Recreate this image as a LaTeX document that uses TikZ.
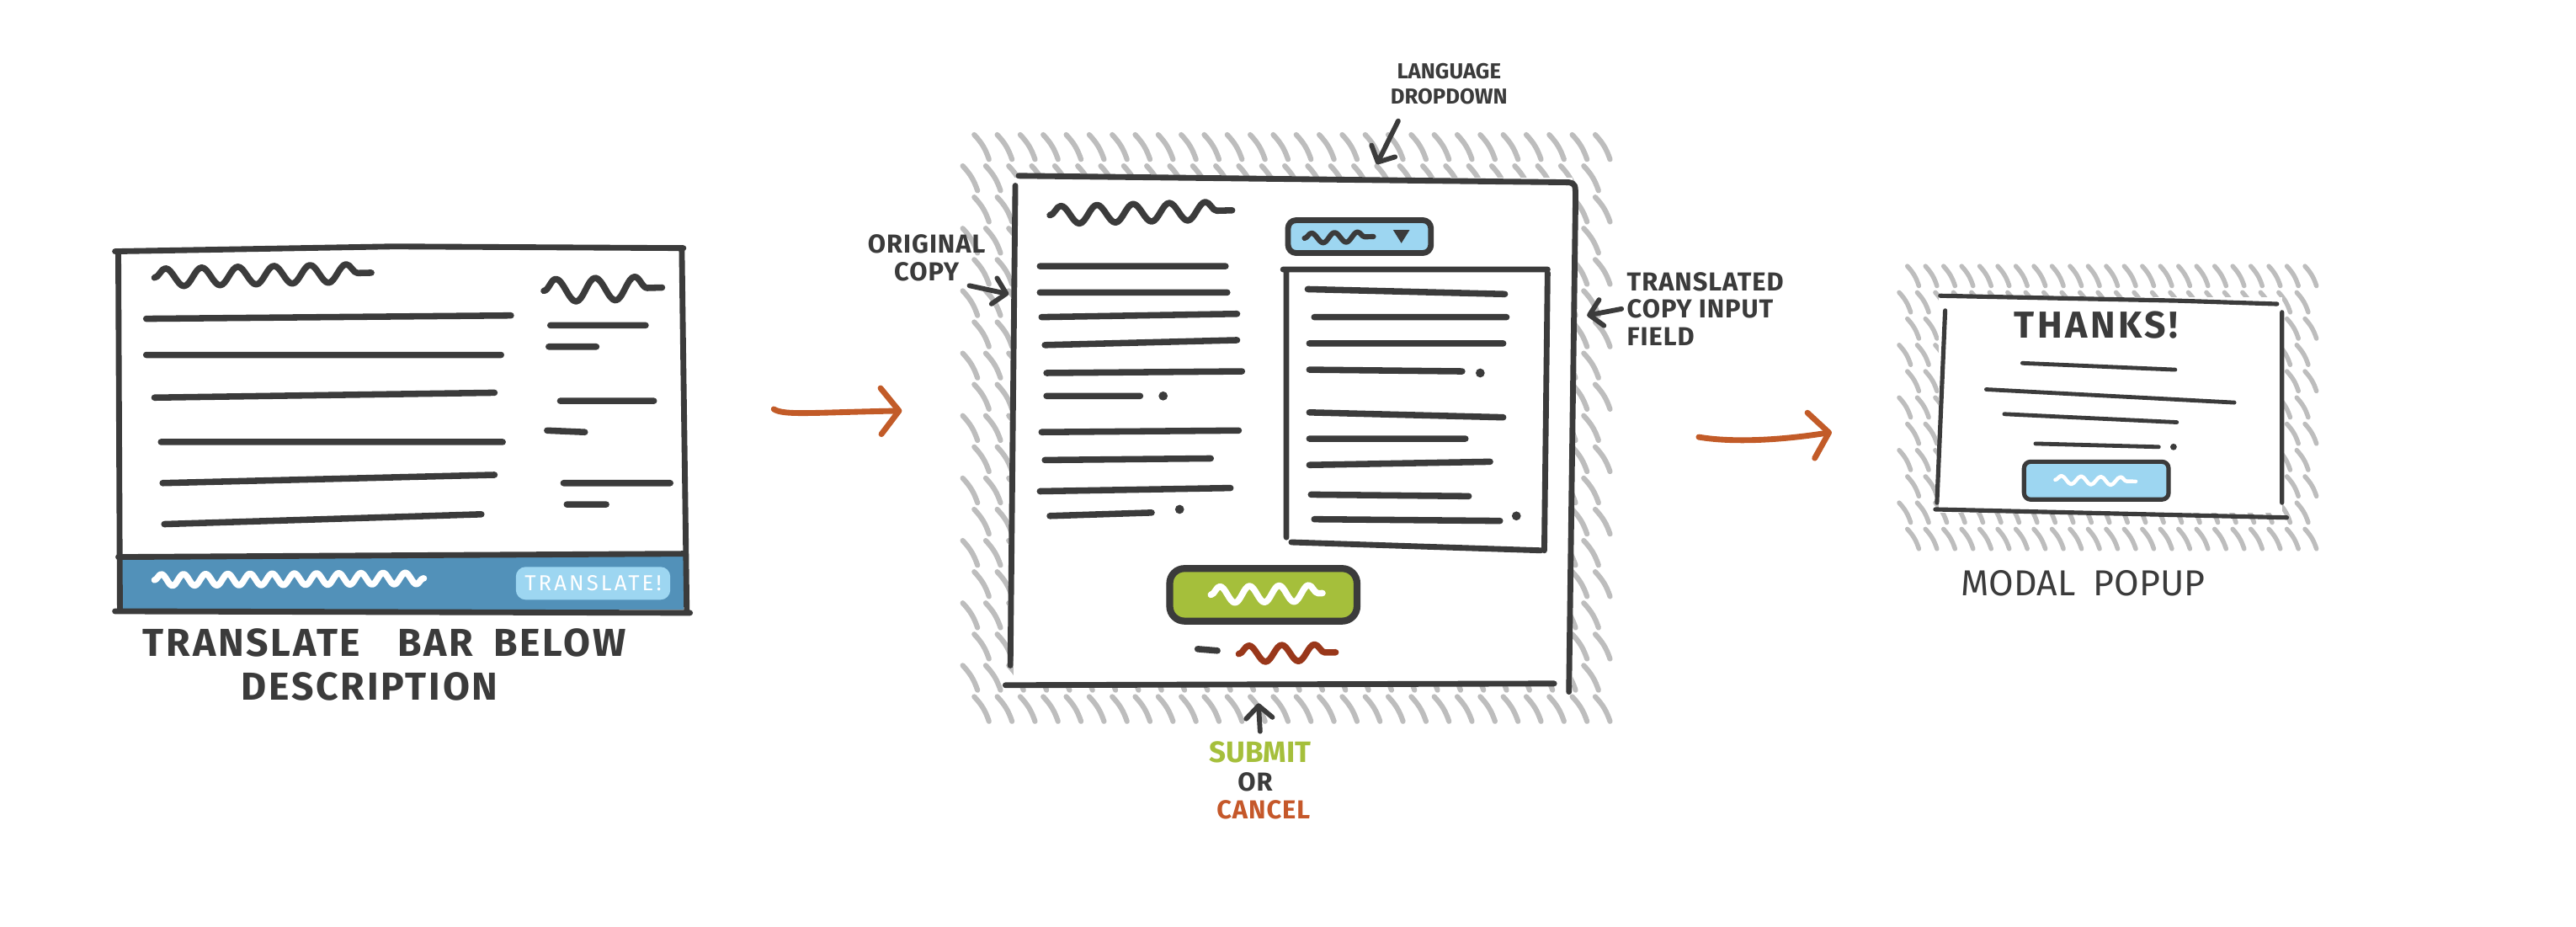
\documentclass[tikz,border=0pt]{standalone}
\usepackage{fontspec}
\setmainfont{Fira Sans}
\usetikzlibrary{arrows.meta,decorations.pathmorphing}
\definecolor{ink}{HTML}{3B3B3B}
\definecolor{schraffgrau}{HTML}{BDBDBD}
\definecolor{pfeilorange}{HTML}{C25B28}
\definecolor{balkenblau}{HTML}{5291B9}
\definecolor{hellblau}{HTML}{9DD6F1}
\definecolor{knopfgruen}{HTML}{A5BF3B}
\definecolor{abbruchrot}{HTML}{99371A}
\definecolor{abbruchorange}{HTML}{C5582A}
\newcommand{\gross}{\fontsize{13.5}{16}\selectfont\bfseries\addfontfeatures{LetterSpace=6}}
\newcommand{\notiz}{\fontsize{9}{9.4}\selectfont\bfseries\addfontfeatures{LetterSpace=3}}
\newcommand{\notizklein}{\fontsize{7.5}{8.5}\selectfont\bfseries}
\newcommand{\knopfschrift}{\fontsize{7.5}{8}\selectfont\addfontfeatures{LetterSpace=12}}
\newcommand{\hand}{\fontsize{13}{16}\selectfont\bfseries\addfontfeatures{LetterSpace=8}}
\newcommand{\unter}{\fontsize{12.5}{14}\selectfont}
\tikzset{kante/.style={ink,line width=2pt,line cap=round,line join=round},
  strich/.style={ink,line width=2.2pt,line cap=round},
  schraffur/.style={schraffgrau,line width=1.8pt,line cap=round},
  kringel/.style={ink,line width=2.2pt,line cap=round,line join=round,decorate,
    decoration={snake,amplitude=1.1mm,segment length=4.4mm}},
  zeiger/.style={ink,line width=1.7pt,line cap=round,-{Straight Barb[length=1.5mm,width=3.2mm,round]}},
  flusspfeil/.style={pfeilorange,line width=2pt,line cap=round,-{Straight Barb[length=2.2mm,width=5.6mm,round]}},
  etikett/.style={inner sep=0,text=ink}}

\begin{document}
\begin{tikzpicture}[x=0.2mm,y=-0.2mm]
\useasboundingbox (0,0) rectangle (1568,564);
\fill[white] (0,0) rectangle (1568,564);
% drei Skizzen: Leiste unter der Beschreibung, Formular mit Uebersetzungsfeld, Dankesfenster
% -- Skizze 1
\fill[white] (72,151) rectangle (416,371);
\fill[balkenblau] (73,338) rectangle (416,371);
\draw[kante] (70,153) -- (240,150) -- (416,151) (72,154) -- (73,372) (415,152) -- (418,372)
  (72,339) -- (416,337) (70,372) -- (420,373);
\draw[kringel] (94,169) -- (226,166);
\draw[kringel,decoration={amplitude=1.4mm,segment length=4.8mm}] (331,177) -- (403,175);
\draw[strich] (89,194) -- (311,192) (89,216) -- (305,216) (94,242) -- (301,239) (98,269) -- (306,269)
  (99,294) -- (301,289) (100,319) -- (293,313);
\draw[strich] (335,198) -- (393,198) (334,211) -- (363,211) (341,244) -- (398,244) (333,262) -- (356,263)
  (343,294) -- (408,294) (345,307) -- (369,307);
\draw[kringel,white,decoration={amplitude=0.7mm,segment length=2.7mm}] (94,353) -- (258,352);
\fill[hellblau,rounded corners=1.2mm] (314,345) rectangle (408,365);
\node[etikett,text=white,font=\knopfschrift] (uebersetzknopf) at (361,355) {TRANSLATE!};
\node[etikett,font=\gross] (titel) at (234,391) {TRANSLATE\hspace{4.5mm}BAR\hspace{2.5mm}BELOW};
\node[etikett,font=\gross] (titelzwei) at (225,418) {DESCRIPTION};
\coordinate (fluss1start) at (471,249);
\coordinate (fluss1ende) at (549,250);
\draw[flusspfeil] (fluss1start) .. controls (477,253) and (495,251) .. (fluss1ende);
% -- Skizze 2
\foreach \hy [count=\i] in {82,101,...,436}
  \foreach \hx in {586,600,...,968}
    \draw[schraffur] ({\hx+7*mod(\i,2)},\hy) to[bend left=12] ++(9,15);
\fill[white] (617,108) rectangle (957,417);
\draw[kante] (620,107) -- (955,111) .. controls (959,112) .. (959,122) -- (955,421)
  (618,113) -- (615,405) (612,417) -- (946,416);
\draw[kringel] (639,131) -- (750,128);
\draw[kante,fill=hellblau,rounded corners=1mm] (784,134) rectangle (871,154);
\draw[kringel,line width=1.8pt,decoration={amplitude=0.6mm,segment length=2.8mm}] (794,145) -- (836,144);
\fill[ink] (848,140) -- (858,140) -- (853,148) -- cycle;
\draw[kante] (781,164) -- (942,164) (783,166) -- (783,327) (942,166) -- (940,335) (786,330) -- (938,335);
\draw[strich] (633,162) -- (746,162) (633,178) -- (747,178) (634,193) -- (753,191) (636,210) -- (753,207)
  (637,227) -- (756,226) (637,241) -- (694,241) (634,263) -- (754,262) (636,280) -- (737,279)
  (633,299) -- (749,297) (639,314) -- (701,312);
\fill[ink] (708,241) circle (0.55mm) (718,310) circle (0.55mm);
\draw[strich] (796,176) -- (916,179) (800,193) -- (917,193) (797,209) -- (915,209) (797,225) -- (890,226)
  (797,251) -- (915,254) (797,267) -- (892,267) (797,283) -- (907,281) (798,301) -- (894,302)
  (800,316) -- (913,317);
\fill[ink] (901,227) circle (0.55mm) (923,314) circle (0.55mm);
\draw[kante,line width=2.4pt,fill=knopfgruen,rounded corners=1.8mm] (712,346) rectangle (826,378);
\draw[kringel,white,decoration={amplitude=1mm,segment length=3.6mm}] (737,362) -- (805,361);
\draw[strich] (729,395) -- (741,396);
\draw[kringel,abbruchrot,decoration={amplitude=1mm,segment length=4mm}] (754,398) -- (813,397);
\node[etikett,font=\notiz,align=center] (original) at (564,157) {ORIGINAL\\COPY};
\node[etikett,font=\notizklein,align=center] (sprache) at (882,51) {LANGUAGE\\DROPDOWN};
\node[etikett,font=\notiz,align=left,anchor=west] (feld) at (990,188) {TRANSLATED\\COPY INPUT\\FIELD};
\node[etikett,font=\fontsize{10.2}{11}\selectfont\bfseries,text=knopfgruen] (absenden) at (767,458) {SUBMIT};
\node[etikett,font=\notiz] (oder) at (764,476) {OR};
\node[etikett,font=\notiz,text=abbruchorange] (abbrechen) at (769,493) {CANCEL};
\coordinate (originalziel) at (614,179);
\coordinate (sprachziel) at (838,100);
\coordinate (feldziel) at (966,192);
\coordinate (knopfziel) at (766,428);
\draw[zeiger] ([xshift=-2mm,yshift=-0.5mm]original.south east) -- (originalziel);
\draw[zeiger] ([xshift=1mm,yshift=-2mm]sprache.south west) -- (sprachziel);
\draw[zeiger] ([xshift=-0.6mm]feld.west) -- (feldziel);
\draw[zeiger] ([yshift=1.2mm]absenden.north) -- (knopfziel);
\coordinate (fluss2start) at (1034,266);
\coordinate (fluss2ende) at (1115,263);
\draw[flusspfeil] (fluss2start) .. controls (1058,270) and (1090,267) .. (fluss2ende);
% -- Skizze 3
\foreach \hy [count=\i] in {162,178,...,326}
  \foreach \hx in {1156,1167,...,1400}
    \draw[schraffur,line width=1.6pt] ({\hx+5*mod(\i,2)},\hy) to[bend left=12] ++(7,12);
\fill[white] (1180,181) rectangle (1389,312);
\draw[kante,line width=1.5pt] (1181,180) -- (1325,183) -- (1386,185) (1184,189) -- (1179,306)
  (1389,190) -- (1389,306) (1178,310) -- (1392,315);
\node[etikett,font=\hand] (danke) at (1276,198) {THANKS!};
\draw[strich,line width=1.4pt] (1231,221) -- (1324,225) (1209,237) -- (1360,245) (1220,252) -- (1325,257)
  (1239,270) -- (1314,272);
\fill[ink] (1323,272) circle (0.4mm);
\draw[kante,line width=1.5pt,fill=hellblau,rounded corners=0.8mm] (1232,281) rectangle (1320,304);
\draw[kringel,white,line width=1.3pt,decoration={amplitude=0.5mm,segment length=2.4mm}] (1251,292) -- (1300,293);
\node[etikett,font=\unter] (modal) at (1268,355) {MODAL\enskip POPUP};
\end{tikzpicture}
\end{document}
